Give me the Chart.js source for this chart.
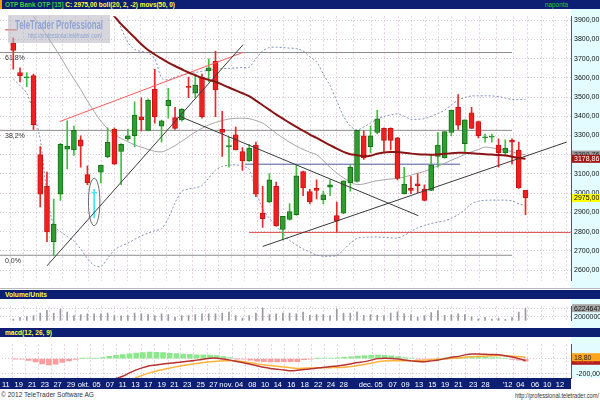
<!DOCTYPE html>
<html>
<head>
<meta charset="utf-8">
<script src="https://cdn.jsdelivr.net/npm/chart.js@4.4.0/dist/chart.umd.min.js"></script>
<style>
html,body{margin:0;padding:0;width:600px;height:400px;background:#fff;overflow:hidden;position:relative;font-family:"Liberation Sans",Arial,sans-serif}
.abs{position:absolute}
.navy{left:0;width:600px;height:9px;background:#0d1f73}
.t{position:absolute;display:inline-block;white-space:nowrap;transform-origin:0 50%;font-size:8px;line-height:9px}
canvas{position:absolute;left:0}
</style>
</head>
<body>
<div class="abs navy" style="top:0"></div>
<div class="abs" style="top:0;left:0;width:2px;height:9px;background:#ff9900"></div>
<span class="t" data-w="170" style="left:5px;top:0;font-weight:bold"><span style="color:#3ccf3c">OTP Bank OTP [15]</span> <span style="color:#ffff33">C: 2975,00 boll(20, 2, -2) movs(50, 0)</span></span>
<span class="t" data-w="23" style="left:545px;top:0;color:#22cc22">naponta</span>

<canvas id="main" width="600" height="279" style="top:9px"></canvas>

<div class="abs" style="left:8px;top:15px;width:102px;height:28px;background:rgba(180,180,192,0.55)"></div>
<span class="t" data-w="88" style="left:15px;top:19px;font-size:12px;line-height:13px;font-weight:bold;color:rgba(140,160,210,0.95)">TeleTrader Professional</span>
<span class="t" data-w="74" style="left:28px;top:32px;font-size:7px;line-height:8px;color:rgba(140,160,210,0.95)">http://professional.teletrader.com/</span>

<div class="abs" style="left:0;top:288px;width:600px;height:1px;background:#b8b8b8"></div>
<div class="abs navy" style="top:290px"></div>
<span class="t" data-w="42" style="left:5px;top:290px;font-weight:bold;color:#ffff33">Volume/Units</span>
<canvas id="vol" width="600" height="29" style="top:299px"></canvas>
<div class="abs navy" style="top:328px"></div>
<span class="t" data-w="47" style="left:5px;top:328px;font-weight:bold;color:#ffff33">macd(12, 26, 9)</span>
<canvas id="macd" width="600" height="52" style="top:337px"></canvas>

<span class="t" data-w="93" style="left:1px;top:390px;font-size:8px;line-height:10px;color:#333">© 2012 TeleTrader Software AG</span>
<span class="t" data-w="84" style="left:515px;top:391px;font-size:7px;line-height:9px;color:#333">http://professional.teletrader.com/</span>

<script>
// ---------------- DATA ----------------
const tickLabels = ['11','19','21','23','27','29','okt.','05','07','11','13','17','19','21','23','25','27','nov.','04','08','10','14','16',
  '18','22','24','28','dec.','05','07','09','13','15','19','21','23','28',"'12",'04','06','10','12'];
const tickIdx = [-1.4,0.5,2.5,4.4,6.3,8.3,10.2,12.1,14.1,16.0,17.9,19.8,21.8,23.7,25.6,27.6,29.5,31.4,33.3,35.3,37.2,39.1,41.1,
  43.1,45.1,47.0,48.9,52.2,54.1,56.2,58.1,60.1,62.1,64.0,66.0,68.2,70.0,73.3,75.2,77.4,79.2,81.1];
const priceTicks = [2600,2700,2800,2900,3000,3100,3200,3300,3400,3500,3600,3700,3800,3900];

const open = [3781,3628,3600,3612,3201,3036,2748,2995,3229,3225, 3278,3097,3000,3110,3189,3332,3217,3283,3299,3398,
  3327,3541,3349,3456,3393,3382,3556,3521,3604,3637, 3686,3332,3242,3304,3217,3168,3250,2896,2954,3036,
  2811,2863,2888,3113,3008,3025,2965,3031,2883,2896, 3053,3061,3299,3242,3316,3337,3337,3288,2998,3025,
  3049,3020,3015,3192,3184,3316,3447,3258,3418,3373, 3288,3292,3250,3209,3275,3225,3015];
const high = [3809,3653,3628,3620,3242,3110,2970,3260,3377,3349, 3299,3143,3020,3146,3340,3340,3258,3332,3475,3497,
  3490,3645,3380,3546,3447,3440,3604,3620,3620,3699, 3739,3426,3291,3344,3238,3255,3266,3036,3102,3058,
  2880,2946,3146,3115,3020,3069,3011,3069,2954,3064, 3146,3327,3324,3349,3431,3340,3340,3291,3135,3086,
  3102,3044,3201,3316,3321,3431,3513,3382,3447,3375, 3308,3308,3283,3278,3283,3266,3015];
const low = [3645,3579,3554,3332,2929,2748,2674,2962,3127,3196, 3135,3044,2872,3053,3185,3150,3044,3275,3242,3324,
  3324,3365,3266,3390,3332,3375,3497,3497,3390,3579, 3398,3192,3135,3225,3118,3165,2982,2822,2950,2828,
  2757,2860,2885,2987,2946,2970,2946,2987,2798,2893, 3011,3058,3176,3209,3308,3217,3225,3069,2996,2998,
  3003,2960,3013,3135,3182,3299,3332,3217,3337,3288, 3266,3266,3135,3201,3151,3025,2888];
const close = [3743,3612,3604,3357,2995,2798,2839,3255,3245,3327, 3245,3053,3006,3146,3266,3151,3255,3299,3406,3382,
  3485,3398,3377,3483,3337,3436,3550,3563,3398,3653, 3538,3316,3247,3225,3168,3233,2995,2867,3069,2830,
  2880,2905,3090,3028,2954,3015,2992,3044,2855,3064, 3135,3327,3184,3299,3387,3275,3275,3077,3048,3015,
  3039,2962,3146,3250,3321,3431,3354,3382,3337,3299, 3294,3296,3210,3233,3266,3028,2975];
const highlightIdx = 12;

const volume = [900000,1700000,2100000,2600000,3800000,5100000,3800000,5600000,4300000,2600000,
  3000000,3400000,3400000,3400000,3800000,2600000,2400000,2600000,3800000,3400000,
  3000000,2600000,3400000,3000000,1700000,2600000,2600000,3000000,3400000,3400000,
  3400000,3800000,4300000,2600000,1300000,2600000,3800000,6400000,3000000,3400000,
  3800000,3800000,3400000,4300000,2700000,3000000,3000000,2600000,5800000,3800000,
  3800000,4400000,2700000,3000000,2700000,2600000,3800000,4400000,3400000,3000000,
  1700000,2600000,4100000,5000000,2700000,3000000,3400000,3000000,1900000,1000000,
  1700000,900000,1300000,700000,1700000,4300000,6224647];

function pad(n, arr){ return new Array(n).fill(null).concat(arr); }

const ma50 = pad(14, [3960,3920,3880,3845,3810,3775,3745,3722,3700,3680,3662,3645,3628,3614,3600,3590,3580,3565,3550,3535,
  3520,3505,3482,3458,3434,3410,3388,3366,3345,3325,3305,3288,3268,3250,3232,3215,3203,3198,3192,3195,
  3205,3212,3214,3214,3210,3206,3203,3201,3200,3202,3205,3208,3210,3210,3208,3205,3203,3201,3199,3196,
  3190,3183,3178.86]);
const bollMid = pad(2, [3960,3920,3870,3820,3765,3710,3650,3595,3540,3480,3425,3375,3335,3305,3285,3268,3252,3240,3228,3218,
  3215,3228,3248,3270,3295,3318,3338,3355,3368,3378,3386,3390,3390,3388,3378,3365,3340,3312,3288,3265,
  3245,3228,3213,3200,3170,3135,3105,3080,3058,3045,3048,3057,3065,3070,3074,3077,3084,3094,3104,3113,
  3128,3142,3155,3172,3186,3202,3216,3227,3240,3236,3230,3225,3216,3205,3200.76]);
const bollUp = pad(15, [3950,3860,3785,3748,3738,3730,3700,3600,3590,3605,3615,3622,3628,3635,3640,3645,3648,3650,3652,3654,
  3656,3700,3740,3758,3760,3758,3755,3753,3740,3710,3684,3620,3560,3480,3400,3350,3329,3345,3365,3385,
  3400,3408,3413,3400,3385,3385,3388,3400,3415,3432,3460,3485,3498,3506,3507,3507,3506,3503,3495,3488,
  3487,3487]);
const bollLow = [3595,3560,3520,3420,3280,3000,2830,2800,2775,2750,2710,2660,2625,2618,2660,2705,2725,2740,2760,2778,
  2792,2805,2815,2870,2950,3010,3022,3028,3040,3080,3120,3140,3145,3148,3140,3125,3010,2920,2870,2830,
  2790,2755,2730,2710,2695,2678,2672,2672,2676,2705,2740,2765,2770,2772,2772,2770,2768,2767,2780,2800,
  2820,2832,2842,2850,2856,2870,2888,2915,2945,2958,2963,2964,2964,2964,2960,2945,2935];

const macdLine = pad(14, [-300,-265,-235,-190,-150,-120,-96,-85,-72,-62,-52,-42,-32,-20,-8,5,6,-5,-20,-38,
  -55,-75,-95,-115,-130,-141,-152,-163,-155,-145,-135,-125,-115,-106,-98,-85,-68,-52,-40,-20,
  0,6,2,-6,-18,-30,-38,-40,-30,-17,0,18,30,50,62,62,58,55,51,38,22,0,-28.61]);
const macdSignal = pad(17, [-300,-254,-220,-190,-165,-145,-125,-108,-92,-78,-65,-52,-42,-34,-29,-28,-30,-40,-55,-70,
  -83,-92,-102,-112,-122,-130,-128,-125,-123,-121,-120,-119,-115,-105,-92,-78,-60,-42,-32,-28,
  -28,-28,-28,-26,-20,-14,-8,-4,2,8,17,24,30,34,38,40,38,33,28,18.80]);
const macdHist = [-3,-8,-25,-45,-70,-85,-75,-50,-30,-12, 3,5,6,15,30,45,55,65,75,82, 86,85,80,72,68,62,58,52,50,48,
  40,28,15,-3,-8,-20,-35,-42,-45,-45, -40,-42,-40,-15,-8,3,5,5,10,18, 25,35,40,45,48,45,38,28,15,8,
  -5,-8,-5,5,10,15,18,20,22,20, 18,15,10,5,-10,-22,-35];

// drawn studies (index, price)
const supportLine = [[5.0,2622],[34.1,3773]];
const channelTop  = [[6.9,3373],[34.1,3733]];
const downTrend   = [[24.7,3400],[60.1,2883]];
const upTrend     = [[37.0,2723],[82.1,3266]];
const blueLevel   = [[34.4,3151],[66.3,3151]];
const redLevel    = [[35.0,2796],[82.7,2796]];
const redMark     = [[-1.2,3850],[0.6,3850]];
const fibLevels = [3732, 3327, 2677];
const fibNames  = ['61,8%','38,2%','0,0%'];
const fibRange  = [-2, 74];
const ellipseMark = {idx:12, lo:2831, hi:3078};

// ---------------- RENDER ----------------
const FONT = '"Liberation Sans", Arial, sans-serif';
Chart.defaults.font.family = FONT;
const X_MIN = -1.97, X_MAX = 82.75;
const AXIS_W = 29, AXIS_BG = '#e2fcff';
const idx = close.map((_, i) => i);
const fmt = v => Number(v).toFixed(2).replace('.', ',');
const pts = arr => arr.map((v, i) => v == null ? null : {x: i, y: v}).filter(Boolean);
const seg = s => s.map(p => ({x: p[0], y: p[1]}));
const isUp = i => close[i] >= open[i];

function xAxis(showLabels){
  return {
    type:'linear', min:X_MIN, max:X_MAX, offset:false,
    grid:{color:'#e6d2e2', lineWidth:1, drawTicks:false},
    border:{display:false, dash:[2,2]},
    ticks:{display:showLabels, autoSkip:false, maxRotation:0, minRotation:0, color:'#ffffff',
      font:{size:7.5, family:FONT}, padding:2, callback:(v, i) => tickLabels[i]},
    afterBuildTicks: s => { s.ticks = tickIdx.map(v => ({value:v})); },
    afterFit: s => { s.height = showLabels ? 11 : 0; }
  };
}
function yAxis(min, max, ticks, cb, crossAlign){
  return {
    position:'right', min, max,
    afterBuildTicks: s => { s.ticks = ticks.map(v => ({value:v})); },
    afterFit: s => { s.width = AXIS_W; },
    grid:{color:'#d6c6d6', drawTicks:false},
    border:{display:true, color:'#556', dash:[1,2]},
    ticks:{color:'#111', font:{size:7, family:FONT}, padding:3, crossAlign: crossAlign || 'near', callback: cb}
  };
}
const axisBg = (fullHeight) => ({
  id:'axisBg',
  beforeDraw(c){
    const s = c.scales.y, ctx = c.ctx;
    ctx.save(); ctx.fillStyle = AXIS_BG;
    ctx.fillRect(s.left, 0, s.right - s.left, fullHeight ? c.height : c.chartArea.bottom);
    ctx.restore();
  }
});
function box(c, value, text, bg, fg){
  const s = c.scales.y, ctx = c.ctx, py = s.getPixelForValue(value);
  ctx.save();
  ctx.fillStyle = bg; ctx.fillRect(s.left + 1, py - 4, s.right - s.left - 1, 8);
  ctx.fillStyle = fg; ctx.font = '7px ' + FONT; ctx.textBaseline = 'middle'; ctx.textAlign = 'left';
  ctx.fillText(text, s.left + 3, py + 0.5);
  ctx.restore();
}
const baseOpts = {responsive:false, animation:false, devicePixelRatio:1, events:[],
  layout:{padding:0}, plugins:{legend:{display:false}, tooltip:{enabled:false}}};
const line = (data, color, width, extra) => Object.assign({type:'line', data, borderColor:color, borderWidth:width,
  pointRadius:0, fill:false, tension:0, order:0}, extra || {});

// main price chart
new Chart(document.getElementById('main'), {
  type:'bar',
  data:{datasets:[
    line(pts(ma50), '#8a1414', 2, {tension:0.3, order:0}),
    line(seg(supportLine), '#3a3a3a', 1),
    line(seg(channelTop), '#ff5a5a', 1),
    line(seg(downTrend), '#3a3a3a', 1),
    line(seg(upTrend), '#3a3a3a', 1),
    line(seg(redMark), '#e03030', 1),
    {label:'body', data: idx.map(i => ({x:i, y:[open[i], close[i]]})),
      backgroundColor: idx.map(i => i === highlightIdx ? '#3fe6f6' : (isUp(i) ? '#2e9e2e' : '#ee2020')),
      borderColor: idx.map(i => i === highlightIdx ? '#3fe6f6' : (isUp(i) ? '#18701a' : '#c81414')),
      borderWidth:1, borderSkipped:false, barThickness:5, grouped:false, minBarLength:1, order:2},
    {label:'wick', data: idx.map(i => ({x:i, y:[low[i], high[i]]})),
      backgroundColor: idx.map(i => i === highlightIdx ? '#3fe6f6' : (isUp(i) ? '#40c040' : '#e82a2a')),
      barThickness:1, grouped:false, order:3},
    line(pts(bollMid), '#a4a4a4', 1, {tension:0.3, order:4}),
    line(pts(bollUp), '#7f8fbf', 1, {tension:0.3, borderDash:[2,2], order:4}),
    line(pts(bollLow), '#7f8fbf', 1, {tension:0.3, borderDash:[2,2], order:4}),
    line(seg(blueLevel), '#4a5a9a', 1, {order:5}),
    line(seg(redLevel), '#e04848', 1, {order:5}),
    ...fibLevels.map(v => line([{x:fibRange[0], y:v}, {x:fibRange[1], y:v}], '#8c8c8c', 1, {order:6}))
  ]},
  options:Object.assign({}, baseOpts, {scales:{
    x: xAxis(false),
    y: yAxis(2544.1, 3921.2, priceTicks, v => fmt(v))
  }}),
  plugins:[axisBg(true), {
    id:'overlay',
    afterDatasetsDraw(c){
      const x = c.scales.x, y = c.scales.y, ctx = c.ctx;
      ctx.save();
      const cx = x.getPixelForValue(ellipseMark.idx);
      const y1 = y.getPixelForValue(ellipseMark.hi), y2 = y.getPixelForValue(ellipseMark.lo);
      const rx = x.getPixelForValue(ellipseMark.idx + 0.85) - cx;
      ctx.strokeStyle = '#6a6a6a'; ctx.lineWidth = 1;
      ctx.beginPath(); ctx.ellipse(cx, (y1 + y2) / 2, rx, (y2 - y1) / 2, 0, 0, Math.PI * 2); ctx.stroke();
      ctx.fillStyle = '#333'; ctx.font = '7px ' + FONT; ctx.textBaseline = 'top'; ctx.textAlign = 'left';
      fibLevels.forEach((v, k) => ctx.fillText(fibNames[k], x.left + 5, y.getPixelForValue(v) + 2));
      ctx.restore();
    },
    afterDraw(c){
      box(c, bollMid[bollMid.length - 1], fmt(bollMid[bollMid.length - 1]), '#9c9c9c', '#222');
      box(c, ma50[ma50.length - 1], fmt(ma50[ma50.length - 1]), '#a01818', '#ffffff');
      box(c, close[close.length - 1], fmt(close[close.length - 1]), '#ffff00', '#000');
    }
  }]
});

// volume chart
new Chart(document.getElementById('vol'), {
  type:'bar',
  data:{datasets:[{data: idx.map(i => ({x:i, y:volume[i]})), backgroundColor:'#9a9aa2', barThickness:1}]},
  options:Object.assign({}, baseOpts, {scales:{
    x: xAxis(false),
    y: yAxis(0, 7180000, [2000000, 4000000, 6000000], v => v === 2000000 ? '2000000' : '')
  }}),
  plugins:[axisBg(true), {id:'vbox', afterDraw(c){
    const v = volume[volume.length - 1];
    box(c, v, String(v), '#a8a8a8', '#111');
  }}]
});

// macd chart
new Chart(document.getElementById('macd'), {
  type:'bar',
  data:{datasets:[
    line(pts(macdLine), '#b83232', 1.5, {tension:0.3, order:0}),
    line(pts(macdSignal), '#ffb23a', 1.5, {tension:0.3, order:1}),
    {data: idx.map(i => ({x:i, y:macdHist[i]})),
      backgroundColor: idx.map(i => macdHist[i] >= 0 ? '#8ce88c' : '#ff9c9c'),
      barThickness:5, order:2}
  ]},
  options:Object.assign({}, baseOpts, {scales:{
    x: xAxis(true),
    y: yAxis(-258, 192, [-200, 0], v => v === 0 ? '0' : fmt(v), 'far')
  }}),
  plugins:[axisBg(false), {
    id:'xbar',
    beforeDraw(c){
      const ctx = c.ctx, a = c.chartArea;
      ctx.save(); ctx.fillStyle = '#0d1f73';
      ctx.fillRect(0, a.bottom, a.right, c.height - a.bottom);
      ctx.restore();
    },
    afterDraw(c){
      box(c, macdLine[macdLine.length - 1], fmt(macdLine[macdLine.length - 1]), '#b01c1c', '#e04040');
      box(c, macdSignal[macdSignal.length - 1], fmt(macdSignal[macdSignal.length - 1]), '#ffa520', '#222');
    }
  }]
});

document.querySelectorAll('[data-w]').forEach(el => {
  const w = el.getBoundingClientRect().width;
  if (w > 0) el.style.transform = 'scaleX(' + (Number(el.dataset.w) / w) + ')';
});
</script>
</body>
</html>
